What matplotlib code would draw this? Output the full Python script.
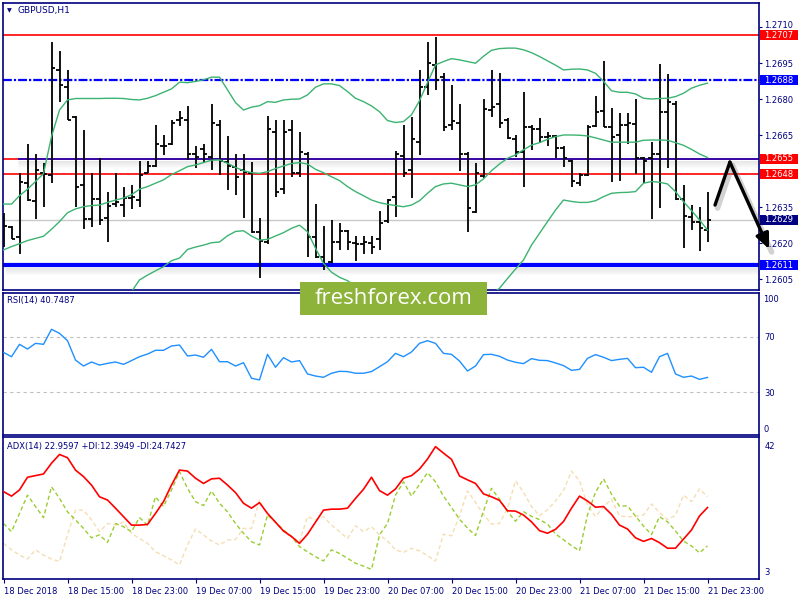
import matplotlib
matplotlib.use("Agg")
import matplotlib.pyplot as plt
import matplotlib.transforms as mtrans
from matplotlib.patches import Rectangle
import numpy as np

# ---------------- data ----------------
symbol_title = "GBPUSD,H1"
rsi_title = "RSI(14) 40.7487"
adx_title = "ADX(14) 22.9597 +DI:12.3949 -DI:24.7427"

time_labels = ["18 Dec 2018", "18 Dec 15:00", "18 Dec 23:00", "19 Dec 07:00",
               "19 Dec 15:00", "19 Dec 23:00", "20 Dec 07:00", "20 Dec 15:00",
               "20 Dec 23:00", "21 Dec 07:00", "21 Dec 15:00", "21 Dec 23:00"]
time_label_bars = [0, 8, 16, 24, 32, 40, 48, 56, 64, 72, 80, 88]

opens = [1.26312, 1.26267, 1.26225, 1.26451, 1.26377, 1.26492, 1.26485, 1.26923, 1.26851, 1.26729,
         1.26444, 1.26302, 1.26384, 1.26305, 1.26364, 1.26360, 1.26391, 1.26381, 1.26495, 1.26523,
         1.26604, 1.26613, 1.26715, 1.26715, 1.26573, 1.26594, 1.26562, 1.26694, 1.26541, 1.26520,
         1.26506, 1.26492, 1.26249, 1.26207, 1.26666, 1.26426, 1.26673, 1.26492, 1.26573, 1.26225,
         1.26145, 1.26124, 1.26205, 1.26252, 1.26200, 1.26196, 1.26200, 1.26217, 1.26294, 1.26395,
         1.26565, 1.26506, 1.26622, 1.26851, 1.26944, 1.26893, 1.26694, 1.26701, 1.26573, 1.26332,
         1.26481, 1.26756, 1.26781, 1.26715, 1.26634, 1.26583, 1.26684, 1.26676, 1.26642, 1.26648,
         1.26597, 1.26545, 1.26453, 1.26485, 1.26691, 1.26754, 1.26684, 1.26652, 1.26694, 1.26698,
         1.26558, 1.26558, 1.26573, 1.26749, 1.26781, 1.26384, 1.26312, 1.26291, 1.26256]
highs = [1.26328, 1.26273, 1.26492, 1.26613, 1.26573, 1.26534, 1.27039, 1.27002, 1.26923, 1.26731,
         1.26673, 1.26492, 1.26555, 1.26413, 1.26492, 1.26437, 1.26444, 1.26544, 1.26544, 1.26694,
         1.26652, 1.26715, 1.26752, 1.26773, 1.26606, 1.26613, 1.26781, 1.26715, 1.26649, 1.26572,
         1.26572, 1.26541, 1.26305, 1.26731, 1.26715, 1.26715, 1.26715, 1.26666, 1.26583, 1.26363,
         1.26273, 1.26298, 1.26284, 1.26256, 1.26232, 1.26232, 1.26231, 1.26335, 1.26384, 1.26585,
         1.26694, 1.26729, 1.26923, 1.27039, 1.27059, 1.26909, 1.26861, 1.26781, 1.26583, 1.26537,
         1.26802, 1.26923, 1.26912, 1.26722, 1.26652, 1.26833, 1.26694, 1.26722, 1.26666, 1.26650,
         1.26606, 1.26546, 1.26492, 1.26694, 1.26815, 1.26961, 1.26763, 1.26743, 1.26745, 1.26802,
         1.26562, 1.26624, 1.26947, 1.26905, 1.26795, 1.26444, 1.26360, 1.26353, 1.26413]
lows = [1.26185, 1.26217, 1.26155, 1.26378, 1.26302, 1.26353, 1.26453, 1.26791, 1.26713, 1.26353,
        1.26260, 1.26270, 1.26277, 1.26205, 1.26353, 1.26312, 1.26344, 1.26353, 1.26492, 1.26520,
        1.26569, 1.26612, 1.26691, 1.26548, 1.26513, 1.26537, 1.26506, 1.26485, 1.26423, 1.26402,
        1.26305, 1.26245, 1.26054, 1.26196, 1.26395, 1.26405, 1.26476, 1.26476, 1.26145, 1.26138,
        1.26089, 1.26117, 1.26173, 1.26173, 1.26127, 1.26156, 1.26156, 1.26173, 1.26284, 1.26312,
        1.26478, 1.26391, 1.26569, 1.26819, 1.26840, 1.26670, 1.26673, 1.26503, 1.26246, 1.26326,
        1.26474, 1.26729, 1.26683, 1.26634, 1.26562, 1.26434, 1.26590, 1.26620, 1.26604, 1.26555,
        1.26520, 1.26437, 1.26441, 1.26483, 1.26684, 1.26684, 1.26455, 1.26462, 1.26613, 1.26490,
        1.26451, 1.26302, 1.26346, 1.26516, 1.26381, 1.26182, 1.26256, 1.26168, 1.26205]
closes = [1.26274, 1.26218, 1.26455, 1.26381, 1.26506, 1.26490, 1.26930, 1.26861, 1.26715, 1.26437,
          1.26302, 1.26384, 1.26298, 1.26356, 1.26374, 1.26388, 1.26395, 1.26485, 1.26523, 1.26613,
          1.26608, 1.26701, 1.26722, 1.26573, 1.26562, 1.26573, 1.26701, 1.26545, 1.26523, 1.26478,
          1.26499, 1.26249, 1.26212, 1.26676, 1.26413, 1.26666, 1.26492, 1.26583, 1.26228, 1.26145,
          1.26106, 1.26205, 1.26252, 1.26205, 1.26196, 1.26205, 1.26187, 1.26287, 1.26381, 1.26573,
          1.26492, 1.26635, 1.26851, 1.26951, 1.26882, 1.26684, 1.26712, 1.26573, 1.26346, 1.26492,
          1.26761, 1.26770, 1.26701, 1.26638, 1.26583, 1.26687, 1.26677, 1.26642, 1.26648, 1.26597,
          1.26558, 1.26462, 1.26485, 1.26687, 1.26749, 1.26687, 1.26642, 1.26694, 1.26701, 1.26558,
          1.26544, 1.26573, 1.26747, 1.26788, 1.26384, 1.26314, 1.26291, 1.26263, 1.26298]

bb_upper = [1.26364, 1.26364, 1.26399, 1.26426, 1.26458, 1.26491, 1.26645, 1.26756, 1.26798, 1.26804,
            1.26804, 1.26804, 1.26804, 1.26805, 1.26805, 1.26804, 1.26800, 1.26798, 1.26805, 1.26816,
            1.26830, 1.26844, 1.26872, 1.26870, 1.26875, 1.26882, 1.26893, 1.26893, 1.26840, 1.26787,
            1.26756, 1.26768, 1.26774, 1.26791, 1.26788, 1.26798, 1.26801, 1.26802, 1.26819, 1.26851,
            1.26865, 1.26865, 1.26858, 1.26833, 1.26805, 1.26791, 1.26773, 1.26749, 1.26712, 1.26704,
            1.26708, 1.26736, 1.26795, 1.26870, 1.26944, 1.26958, 1.26970, 1.26965, 1.26958, 1.26951,
            1.26980, 1.27005, 1.27012, 1.27014, 1.27014, 1.27007, 1.26995, 1.26979, 1.26961, 1.26943,
            1.26923, 1.26926, 1.26927, 1.26923, 1.26909, 1.26876, 1.26836, 1.26830, 1.26830, 1.26823,
            1.26805, 1.26802, 1.26804, 1.26805, 1.26812, 1.26826, 1.26847, 1.26859, 1.26868]
bb_middle = [1.26173, 1.26187, 1.26199, 1.26212, 1.26221, 1.26230, 1.26259, 1.26291, 1.26328, 1.26344,
             1.26353, 1.26358, 1.26360, 1.26371, 1.26381, 1.26389, 1.26403, 1.26426, 1.26437, 1.26451,
             1.26465, 1.26487, 1.26503, 1.26520, 1.26527, 1.26537, 1.26547, 1.26548, 1.26534, 1.26517,
             1.26503, 1.26495, 1.26492, 1.26499, 1.26512, 1.26523, 1.26533, 1.26537, 1.26531, 1.26509,
             1.26495, 1.26478, 1.26462, 1.26437, 1.26416, 1.26399, 1.26381, 1.26370, 1.26363, 1.26358,
             1.26353, 1.26360, 1.26378, 1.26409, 1.26437, 1.26448, 1.26451, 1.26444, 1.26437, 1.26444,
             1.26469, 1.26503, 1.26531, 1.26555, 1.26569, 1.26590, 1.26610, 1.26620, 1.26634, 1.26645,
             1.26652, 1.26652, 1.26651, 1.26648, 1.26640, 1.26631, 1.26622, 1.26622, 1.26622, 1.26622,
             1.26630, 1.26631, 1.26631, 1.26630, 1.26620, 1.26609, 1.26592, 1.26573, 1.26558]
bb_lower = [1.25981, 1.25992, 1.25999, 1.25997, 1.25985, 1.25968, 1.25872, 1.25825, 1.25858, 1.25884,
            1.25903, 1.25911, 1.25917, 1.25938, 1.25957, 1.25975, 1.25999, 1.26048, 1.26068, 1.26086,
            1.26103, 1.26128, 1.26139, 1.26175, 1.26185, 1.26193, 1.26203, 1.26206, 1.26232, 1.26250,
            1.26253, 1.26231, 1.26214, 1.26217, 1.26231, 1.26245, 1.26263, 1.26276, 1.26249, 1.26180,
            1.26117, 1.26080, 1.26059, 1.26045, 1.26020, 1.25999, 1.25985, 1.25989, 1.25992, 1.25992,
            1.25989, 1.25978, 1.25961, 1.25947, 1.25929, 1.25938, 1.25931, 1.25922, 1.25915, 1.25936,
            1.25957, 1.25989, 1.26013, 1.26054, 1.26093, 1.26131, 1.26193, 1.26242, 1.26291, 1.26339,
            1.26381, 1.26375, 1.26371, 1.26371, 1.26378, 1.26395, 1.26409, 1.26412, 1.26413, 1.26416,
            1.26451, 1.26458, 1.26455, 1.26448, 1.26416, 1.26374, 1.26337, 1.26298, 1.26256]

rsi = [58.7, 55.6, 64.5, 61.1, 65.2, 64.5, 75.3, 72.4, 67.1, 53.2,
       48.9, 51.8, 49.6, 50.8, 51.8, 50.1, 52.8, 55.6, 57.5, 60.2,
       60.2, 63.3, 64.0, 56.1, 56.8, 55.2, 60.9, 52.0, 52.0, 48.9,
       51.3, 40.1, 38.9, 57.3, 48.0, 54.9, 51.8, 52.8, 43.2, 41.7,
       40.8, 43.7, 45.1, 44.9, 43.7, 43.7, 44.9, 48.4, 52.0, 58.0,
       55.6, 59.0, 65.2, 67.1, 65.2, 58.0, 57.3, 52.5, 45.3, 48.9,
       57.1, 57.3, 55.9, 53.2, 51.6, 50.6, 54.2, 53.0, 52.8, 51.1,
       49.2, 45.8, 46.5, 54.4, 57.1, 55.2, 52.8, 53.7, 54.4, 47.7,
       48.0, 44.4, 55.6, 58.0, 43.2, 40.8, 41.7, 39.3, 40.7]

adx = [27.7, 26.3, 28.2, 32.1, 32.6, 33.1, 36.4, 39.1, 38.1, 34.3,
       32.3, 29.7, 26.1, 25.1, 22.6, 20.0, 17.4, 17.4, 17.6, 21.0,
       24.6, 29.7, 34.3, 34.0, 31.8, 30.2, 31.6, 31.8, 29.7, 27.4,
       24.1, 22.6, 24.3, 21.0, 18.3, 15.6, 13.9, 11.8, 14.6, 18.3,
       22.0, 22.3, 22.3, 22.6, 25.6, 28.4, 32.1, 28.0, 26.6, 28.5,
       31.8, 32.6, 34.6, 37.7, 41.5, 39.5, 37.6, 32.5, 31.3, 30.2,
       27.0, 26.1, 25.0, 21.8, 21.7, 20.5, 18.4, 15.7, 14.9, 16.1,
       18.5, 22.6, 26.3, 24.8, 22.9, 23.1, 20.7, 17.4, 16.2, 13.5,
       12.4, 13.3, 12.0, 10.3, 10.3, 13.1, 15.9, 20.2, 22.8]
plus_di = [17.9, 15.4, 21.0, 26.6, 23.1, 19.7, 29.2, 25.6, 21.5, 19.0,
           16.4, 13.5, 14.4, 12.1, 17.9, 16.9, 15.4, 19.7, 17.4, 26.1,
           23.1, 28.2, 33.8, 28.7, 24.6, 23.4, 27.9, 24.1, 21.5, 17.9,
           14.9, 12.3, 11.3, 20.5, 18.3, 15.9, 13.9, 10.8, 9.2, 7.7,
           6.4, 9.8, 8.7, 7.2, 5.7, 4.8, 3.8, 14.4, 17.9, 26.6,
           30.7, 26.3, 29.9, 33.5, 30.7, 26.3, 22.8, 19.2, 16.5, 14.2,
           21.7, 28.7, 25.3, 21.6, 18.6, 21.5, 20.1, 19.1, 17.7, 14.7,
           12.9, 11.1, 9.5, 20.5, 27.5, 31.6, 26.9, 23.2, 23.3, 20.2,
           17.1, 14.5, 20.0, 18.4, 15.6, 12.5, 11.0, 8.9, 11.0]
minus_di = [11.8, 9.8, 8.2, 7.0, 9.8, 8.2, 7.0, 6.2, 14.4, 22.0,
            22.0, 19.0, 15.4, 17.9, 17.4, 18.3, 14.9, 13.3, 11.8, 9.2,
            8.0, 6.7, 5.2, 11.3, 16.2, 14.4, 12.5, 11.3, 12.8, 13.0,
            16.4, 16.4, 25.1, 20.5, 18.3, 15.4, 13.9, 12.3, 20.0, 19.0,
            20.0, 17.4, 15.4, 13.3, 17.2, 15.4, 16.9, 14.4, 12.5, 9.8,
            9.0, 10.3, 9.5, 8.0, 6.4, 14.6, 14.1, 20.2, 27.9, 24.4,
            20.7, 17.7, 17.9, 22.6, 31.0, 27.5, 23.1, 20.3, 22.1, 24.8,
            28.0, 34.0, 31.0, 23.6, 20.0, 23.0, 25.4, 20.2, 20.0, 20.0,
            20.5, 23.9, 21.2, 19.1, 20.4, 26.6, 24.6, 28.5, 26.1]

# 1.2650 is hidden behind the 1.2648 label box in the reference, so it is not listed
price_ticks = ["1.2605", "1.2620", "1.2635", "1.2665", "1.2680", "1.2695", "1.2710"]
rsi_ticks = ["70", "30"]
adx_ticks = ["42", "3"]

level_values = [1.27068, 1.26880, 1.26552, 1.26488, 1.26298, 1.26110]
level_labels = ["1.2707", "1.2688", "1.2655", "1.2648", "1.2629", "1.2611"]
level_box_colors = ["#FF0000", "#0000FF", "#FF0000", "#FF0000", "#000080", "#0000FF"]

arrow_x = [88.94, 90.8, 95.7]
arrow_y = [1.26360, 1.26539, 1.26177]

# ---------------- layout ----------------
W, H = 800, 600
NAVY = "#000080"
fig = plt.figure(figsize=(W / 100, H / 100), dpi=100)
fig.patch.set_facecolor("white")


def box(x0, y0, x1, y1):
    return [x0 / W, 1 - y1 / H, (x1 - x0) / W, (y1 - y0) / H]


ax = fig.add_axes(box(3, 3, 759, 290))
ax_rsi = fig.add_axes(box(3, 293, 759, 435))
ax_adx = fig.add_axes(box(3, 437, 759, 579))

x = np.arange(len(closes))
for a in (ax, ax_rsi, ax_adx):
    a.set_xlim(-0.0625, 94.4375)
    a.set_facecolor("white")
    for s in a.spines.values():
        s.set_color(NAVY)
        s.set_linewidth(1.2)
    a.yaxis.tick_right()
    a.tick_params(axis="y", colors=NAVY, labelsize=6, length=2.5, width=0.8, pad=1.5)
    a.tick_params(axis="x", bottom=False, labelbottom=False)

# ---------------- main price panel ----------------
ax.set_ylim(1.26006, 1.27202)
ax.set_yticks([float(t) for t in price_ticks])
ax.set_yticklabels(price_ticks)
# nudge the top price label up slightly so it sits just above the 1.2707 box
top_lab = ax.get_yticklabels()[-1]
top_lab.set_transform(top_lab.get_transform() +
                      mtrans.ScaledTranslation(0, 2.5 / 100, fig.dpi_scale_trans))
px = (1.27202 - 1.26006) / 287.0


def shadow(p, x0):
    for k in range(1, 8):
        ax.hlines(p - (1.5 + k) * px, x0, 94.44, color="gray",
                  alpha=0.20 * (1 - k / 8.0), lw=0.8, zorder=0.5)
    for k in range(1, 3):
        ax.hlines(p + (1.5 + k) * px, x0, 94.44, color="gray",
                  alpha=0.08 * (1 - k / 3.0), lw=0.8, zorder=0.5)


ax.axhline(level_values[0], color="#FF0000", lw=1.2, zorder=1)
ax.axhline(level_values[1], color="#0000FF", lw=1.6, ls=(0, (4, 0.9, 1.0, 0.9)), zorder=1)
shadow(level_values[2], 1.8)
ax.axhline(level_values[2], color="#FF0000", lw=1.2, zorder=1)
ax.hlines(level_values[2], 1.8, 94.44, color="#0000CD", lw=1.1, zorder=1.1)
ax.axhline(level_values[3], color="#FF0000", lw=1.2, zorder=1)
ax.axhline(level_values[4], color="#C8C8C8", lw=1.0, zorder=0.8)
shadow(level_values[5], 0.2)
ax.axhline(level_values[5], color="#0000FF", lw=3.0, zorder=1)

# OHLC bars
ax.vlines(x, lows, highs, color="black", lw=1.3, zorder=3)
ax.hlines(opens, x - 0.4, x, color="black", lw=1.3, zorder=3)
ax.hlines(closes, x, x + 0.4, color="black", lw=1.3, zorder=3)

# Bollinger bands
for band in (bb_upper, bb_middle, bb_lower):
    ax.plot(x, band, color="#3CB371", lw=1.0, zorder=4)

# arrow (with shadow)
sh = mtrans.offset_copy(ax.transData, fig=fig, x=2.5, y=-3, units="dots")
ax.plot(arrow_x, arrow_y, color="gray", alpha=0.35, lw=4, transform=sh,
        clip_on=False, zorder=8, solid_capstyle="round")
ax.plot(arrow_x[:2], arrow_y[:2], color="black", lw=2.4, clip_on=False, zorder=9,
        solid_capstyle="round")
ax.annotate("", xy=(arrow_x[2], arrow_y[2]), xytext=(arrow_x[1], arrow_y[1]),
            arrowprops=dict(arrowstyle="-|>,head_length=0.9,head_width=0.4", lw=2.4,
                            color="black", shrinkA=0, shrinkB=0),
            annotation_clip=False, zorder=9)

# level label boxes
fig.canvas.draw()
for val, lab, col in zip(level_values, level_labels, level_box_colors):
    ydisp = ax.transData.transform((0, val))[1]
    fy = ydisp / H
    fig.add_artist(Rectangle((760 / W, fy - 5 / H), 38 / W, 10 / H,
                             transform=fig.transFigure, facecolor=col,
                             edgecolor="none", zorder=20))
    fig.text(779 / W, fy, lab, color="white", fontsize=6, ha="center",
             va="center", zorder=21)

# ---------------- RSI panel ----------------
ax_rsi.set_ylim(-0.7, 101.4)
ax_rsi.set_yticks([float(t) for t in rsi_ticks])
ax_rsi.set_yticklabels(rsi_ticks)
ax_rsi.tick_params(axis="y", length=0, pad=4)
for lv in (70, 30):
    ax_rsi.axhline(lv, color="#C0C0C0", lw=0.8, ls=(0, (3, 3)), zorder=1)
ax_rsi.plot(x, rsi, color="#1E90FF", lw=1.0, zorder=3)
ax_rsi.annotate("100", xy=(1, 1), xycoords="axes fraction", xytext=(4, -6),
                textcoords="offset pixels", fontsize=6, color=NAVY, va="center",
                annotation_clip=False)
ax_rsi.annotate("0", xy=(1, 0), xycoords="axes fraction", xytext=(4, 6),
                textcoords="offset pixels", fontsize=6, color=NAVY, va="center",
                annotation_clip=False)

# ---------------- ADX panel ----------------
ax_adx.set_ylim(0.85, 44.46)
ax_adx.set_yticks([float(t) for t in adx_ticks])
ax_adx.set_yticklabels(adx_ticks)
ax_adx.tick_params(axis="y", length=0, pad=4)
ax_adx.plot(x, minus_di, color="#F5DEB3", lw=1.0, ls=(0, (3, 2)), zorder=2)
ax_adx.plot(x, plus_di, color="#9ACD32", lw=1.0, ls=(0, (3, 2)), zorder=2)
ax_adx.plot(x, adx, color="#FF0000", lw=1.2, zorder=3)

ax_adx.set_xticks(time_label_bars)
ax_adx.set_xticklabels(time_labels)
ax_adx.tick_params(axis="x", bottom=True, labelbottom=True, length=3, width=0.8,
                   colors=NAVY, labelsize=6, pad=2.5)
for t in ax_adx.get_xticklabels():
    t.set_horizontalalignment("left")

# ---------------- titles ----------------
fig.text(7 / W, 1 - 11 / H, "\u25bc", fontsize=4.5, color=NAVY, va="center", ha="left")
fig.text(18 / W, 1 - 11 / H, symbol_title, fontsize=6.5, color=NAVY, va="center", ha="left")
fig.text(7 / W, 1 - 301 / H, rsi_title, fontsize=6, color=NAVY, va="center", ha="left")
fig.text(7 / W, 1 - 447 / H, adx_title, fontsize=6, color=NAVY, va="center", ha="left")

# ---------------- watermark logo ----------------
fig.add_artist(Rectangle((300 / W, 1 - 315 / H), 187 / W, 33 / H, transform=fig.transFigure,
                         facecolor="#8DB33A", edgecolor="none", zorder=30))
fig.text(393.5 / W, 1 - 298.5 / H, "freshforex.com", color="white", fontsize=16,
         family="Open Sans", ha="center", va="center", zorder=31)

fig.savefig("out.png", dpi=100, facecolor="white")
